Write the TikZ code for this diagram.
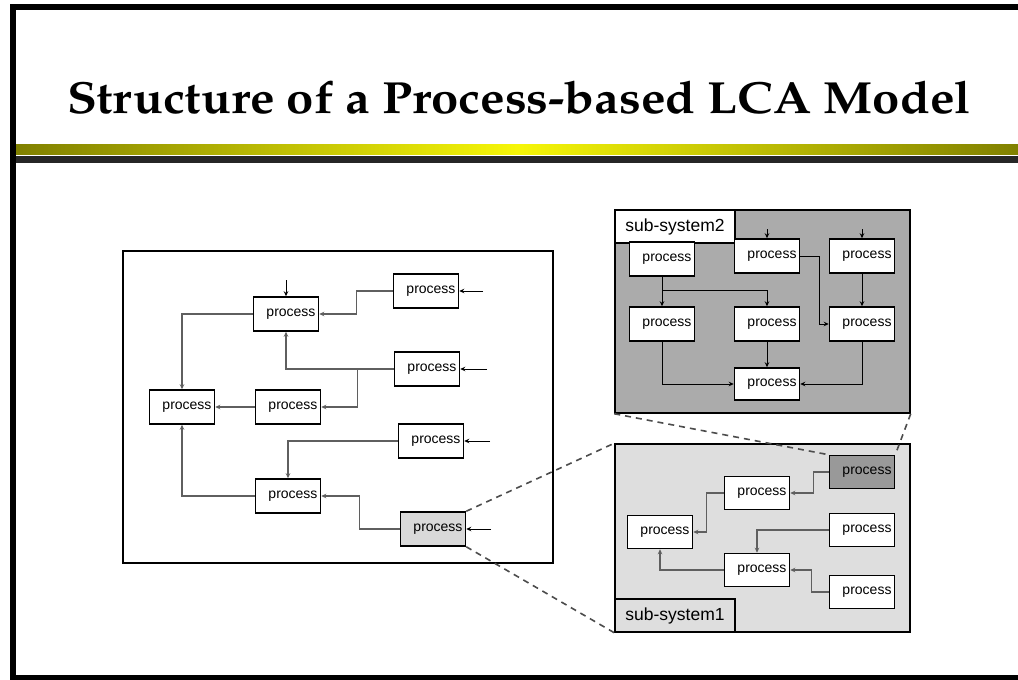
\documentclass[tikz,border=0pt]{standalone}
\usepackage{fontspec}
\setsansfont{Liberation Sans}
\newfontfamily\titlefont{texgyrepagella-bold.otf}[FakeStretch=1.09]
\usetikzlibrary{arrows.meta}

\definecolor{olivebar}{RGB}{128,128,0}
\definecolor{yellowbar}{RGB}{246,246,8}
\definecolor{linegray}{RGB}{95,95,95}

\tikzset{
  proc/.style={draw, line width=1.5pt, fill=white, minimum width=65pt, minimum height=34pt,
    inner sep=2pt, text width=59pt, align=right, font=\sffamily\fontsize{14}{14}\selectfont},
  flow/.style={->, line width=1.3pt, draw=linegray},
  feed/.style={->, line width=1pt},
  zoomline/.style={line width=1.6pt, draw=black!70, dash pattern=on 6pt off 5pt},
  sysbox/.style={draw, line width=1.5pt, inner sep=0pt},
  syslabel/.style={draw, line width=1.5pt, minimum width=120pt, minimum height=33pt,
    inner sep=0pt, font=\sffamily\fontsize{17.5}{17.5}\selectfont},
}

\begin{document}
\begin{tikzpicture}[x=1pt,y=-1pt,>={Stealth[length=5pt,width=4.5pt]}]
	\useasboundingbox (0,0) rectangle (1018,680);
	% slide frame and title
	\draw[line width=6pt] (1030,6.5) -- (13,6.5) -- (13,678) -- (1030,678);
	\shade[left color=olivebar, right color=olivebar, middle color=yellowbar] (16,144) rectangle (1018,154);
	\fill[black!85] (16,156) rectangle (1018,163);
	\node[anchor=base west, inner sep=0pt, font=\titlefont\fontsize{45}{45}\selectfont] (title) at (67,113) {Structure of a Process-based LCA Model};

	% whole model
	\node[sysbox, minimum width=430pt, minimum height=312pt] (model) at (338,407) {};
	\node[proc] (ptop) at (286,314) {process};
	\node[proc] (pr1) at (426,291) {process};
	\node[proc] (pr2) at (427,369) {process};
	\node[proc] (pleft) at (182,407) {process};
	\node[proc] (pmid) at (288,407) {process};
	\node[proc] (pr3) at (431,441) {process};
	\node[proc] (pbot) at (288,496) {process};
	\node[proc, fill=black!15] (pgray) at (433,529) {process};
	\coordinate (in0) at (286,280);
	\coordinate (in1) at (483,291);
	\coordinate (in2) at (487,369);
	\coordinate (in3) at (490,441);
	\coordinate (in4) at (491,529);
	\draw[feed] (in0) -- (ptop.north);
	\draw[feed] (in1) -- (pr1.east);
	\draw[feed] (in2) -- (pr2.east);
	\draw[feed] (in3) -- (pr3.east);
	\draw[feed] (in4) -- (pgray.east);
	\draw[flow] (pr1.west) -- ++(-36,0) |- (ptop.east);
	\draw[flow] (ptop.west) -| (pleft.north);
	\draw[flow] (pr2.west) -| (ptop.south);
	\draw[flow] (pr2.west) -- ++(-36,0) |- (pmid.east);
	\draw[flow] (pmid.west) -- (pleft.east);
	\draw[flow] (pr3.west) -| (pbot.north);
	\draw[flow] (pbot.west) -| (pleft.south);
	\draw[flow] (pgray.west) -- ++(-40,0) |- (pbot.east);

	% sub-system2
	\node[sysbox, fill=black!33, minimum width=295pt, minimum height=203pt] (ss2) at (762.5,311.5) {};
	\node[syslabel, fill=white, anchor=north west] (lab2) at (ss2.north west) {sub-system2};
	\node[proc] (sA) at (662,259) {process};
	\node[proc] (sB) at (767,256) {process};
	\node[proc] (sC) at (862,256) {process};
	\node[proc] (sD) at (662,324) {process};
	\node[proc] (sE) at (767,324) {process};
	\node[proc] (sF) at (862,324) {process};
	\node[proc, minimum height=32pt] (sG) at (767,384) {process};
	\coordinate (inB) at (767,229);
	\coordinate (inC) at (862,229);
	\coordinate (split) at (662,290);
	\draw[feed] (inB) -- (sB.north);
	\draw[feed] (inC) -- (sC.north);
	\draw[feed] (sA.south) -- (sD.north);
	\draw[feed] (split) -| (sE.north);
	\draw[feed] (sB.east) -- ++(19,0) |- (sF.west);
	\draw[feed] (sC.south) -- (sF.north);
	\draw[feed] (sE.south) -- (sG.north);
	\draw[feed] (sD.south) |- (sG.west);
	\draw[feed] (sF.south) |- (sG.east);

	% sub-system1
	\node[sysbox, fill=black!13, minimum width=295pt, minimum height=188pt] (ss1) at (762.5,538) {};
	\node[syslabel, fill=black!13, anchor=south west] (lab1) at (ss1.south west) {sub-system1};
	\node[proc, fill=black!40, minimum height=33pt] (sH) at (862,472) {process};
	\node[proc, minimum height=33pt] (sI) at (757,493) {process};
	\node[proc, minimum height=33pt] (sJ) at (660,532) {process};
	\node[proc, minimum height=33pt] (sK) at (862,530) {process};
	\node[proc, minimum height=33pt] (sL) at (757,570) {process};
	\node[proc, minimum height=33pt] (sM) at (862,592) {process};
	\draw[flow] (sH.west) -- ++(-15,0) |- (sI.east);
	\draw[flow] (sI.west) -- ++(-17,0) |- (sJ.east);
	\draw[flow] (sK.west) -| (sL.north);
	\draw[flow] (sL.west) -| (sJ.south);
	\draw[flow] (sM.west) -- ++(-17,0) |- (sL.east);

	% zoom lines
	\draw[zoomline] (pgray.north east) -- (ss1.north west);
	\draw[zoomline] (pgray.south east) -- (ss1.south west);
	\draw[zoomline] (ss2.south west) -- (sH.north west);
	\draw[zoomline] (ss2.south east) -- (sH.north east);
\end{tikzpicture}
\end{document}
